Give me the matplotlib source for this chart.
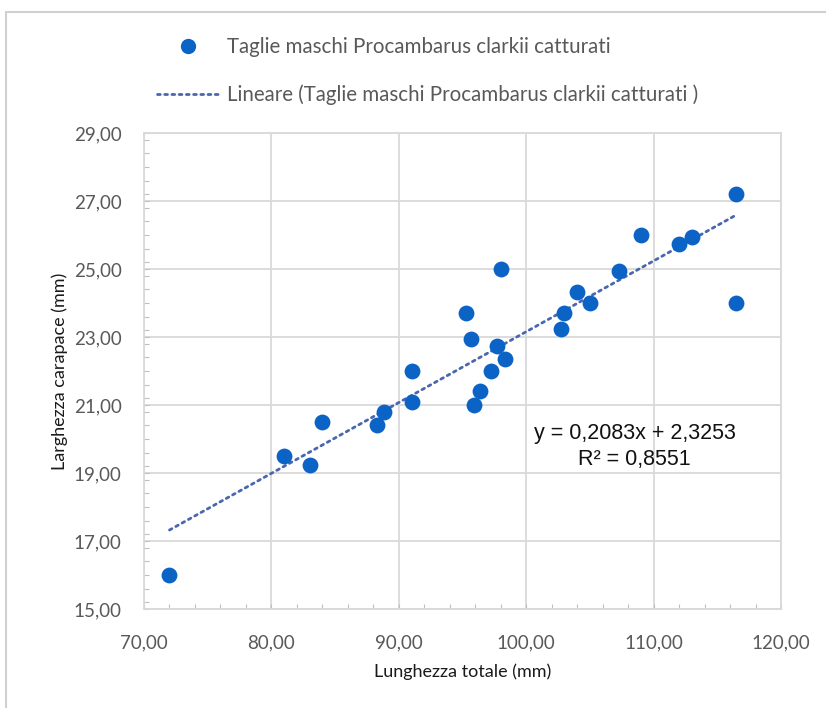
import numpy as np
from matplotlib import pyplot as plt
from matplotlib.lines import Line2D
from matplotlib.patches import Rectangle
from matplotlib.ticker import MultipleLocator, FixedLocator, FuncFormatter

# lunghezza totale / larghezza carapace dei maschi catturati (mm)
lunghezza = [72.0, 81.0, 83.0, 84.0, 88.3, 88.8, 91.0, 91.0, 95.3, 95.7, 95.9, 96.4, 97.2,
             97.7, 98.0, 98.3, 102.7, 103.0, 104.0, 105.0, 107.3, 109.0, 112.0, 113.0, 116.5, 116.5]
larghezza = [16.0, 19.5, 19.25, 20.5, 20.4, 20.8, 21.1, 22.0, 23.7, 22.95, 21.0, 21.4, 22.0,
             22.75, 25.0, 22.35, 23.25, 23.7, 24.33, 24.0, 24.95, 26.0, 25.75, 25.93, 27.2, 24.0]

# coefficienti della linea di tendenza
pendenza = 0.2083
intercetta = 2.3253
r2 = 0.8551

nome_serie = "Taglie maschi Procambarus clarkii catturati"
nome_tendenza = "Lineare (Taglie maschi Procambarus clarkii catturati )"

FONT = ['Lato', 'DejaVu Sans']
GRIGIO = '#595959'
GRIGLIA = '#D9D9D9'
BLU = '#0B63C6'
BLU_LINEA = '#4A66B0'

fig = plt.figure(figsize=(8.26, 7.08), dpi=100)
fig.patches.append(Rectangle((6 / 826, -0.01), 1.0, 1 - 12 / 708 + 0.01, transform=fig.transFigure,
                             fill=False, edgecolor='#D0D0D0', linewidth=1.5))
ax = fig.add_axes([144 / 826, 1 - 609 / 708, (781 - 144) / 826, (609 - 133) / 708])

ax.scatter(lunghezza, larghezza, s=130, color=BLU, zorder=3, linewidths=0)

xt = np.array([min(lunghezza), max(lunghezza)])
ax.plot(xt, pendenza * xt + intercetta, color=BLU_LINEA, linewidth=2.0,
        linestyle=(0, (1, 1.6)), dash_capstyle='round', zorder=2)

ax.set_xlim(70, 120)
ax.set_ylim(15, 29)
ax.xaxis.set_major_locator(MultipleLocator(10))
ax.xaxis.set_minor_locator(MultipleLocator(2))
ax.yaxis.set_major_locator(FixedLocator(np.arange(15, 29.5, 2)))
ax.yaxis.set_minor_locator(MultipleLocator(0.4))
virgola = FuncFormatter(lambda v, p: f"{v:.2f}".replace('.', ','))
ax.xaxis.set_major_formatter(virgola)
ax.yaxis.set_major_formatter(virgola)

ax.grid(True, which='major', color=GRIGLIA, linewidth=1.3)
ax.set_axisbelow(True)
for s in ax.spines.values():
    s.set_color(GRIGLIA)
    s.set_linewidth(1.3)
ax.tick_params(which='both', direction='in', length=3.5, width=0.8, color='#BFBFBF')
ax.tick_params(axis='x', which='major', pad=18, labelsize=13.5, labelcolor=GRIGIO)
ax.tick_params(axis='y', which='major', pad=16, labelsize=13.5, labelcolor=GRIGIO)
for lab in ax.get_xticklabels() + ax.get_yticklabels():
    lab.set_family(FONT)

ax.set_xlabel("Lunghezza totale (mm)", fontsize=13, family=FONT, color='#1A1A1A', labelpad=9)
ax.set_ylabel("Larghezza carapace (mm)", fontsize=13, family=FONT, color='#1A1A1A', labelpad=4)

ax.text(0.77, 0.342, f"y = {pendenza:.4f}x + {intercetta:.4f}\nR² = {r2:.4f}".replace('.', ','),
        transform=ax.transAxes, ha='center', va='center', fontsize=15.5,
        family=['Liberation Sans', 'DejaVu Sans'], color='#111111', linespacing=1.32)

handles = [Line2D([], [], linestyle='none', marker='o', markersize=11, color=BLU, markeredgewidth=0),
           Line2D([], [], color=BLU_LINEA, linewidth=2.0, linestyle=(0, (1, 1.6)), dash_capstyle='round')]
leg = fig.legend(handles, [nome_serie, nome_tendenza], loc='upper left',
                 bbox_to_anchor=(157 / 826, 1 - 37 / 708), frameon=False, borderpad=0,
                 borderaxespad=0, handlelength=3.0, handletextpad=0.4, labelspacing=1.35,
                 prop={'family': FONT, 'size': 14.8})
for t in leg.get_texts():
    t.set_color(GRIGIO)

fig.savefig('out.png', dpi=100)
